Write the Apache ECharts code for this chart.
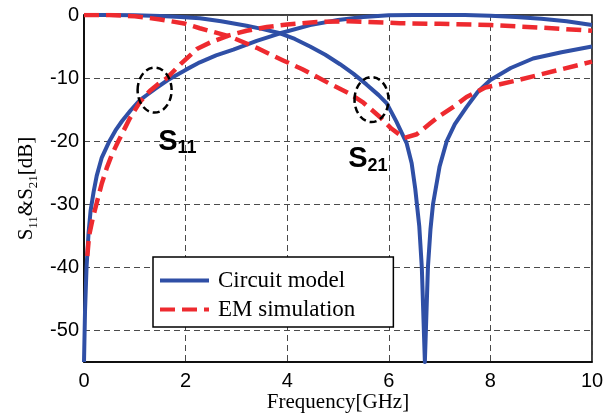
<!DOCTYPE html>
<html>
<head>
<meta charset="utf-8">
<script src="https://cdn.jsdelivr.net/npm/echarts@6/dist/echarts.min.js"></script>
<style>
html, body { margin: 0; padding: 0; background: #fff; }
#main { width: 610px; height: 415px; }
</style>
</head>
<body>
<div id="main"></div>
<script>
// circuit model, reflection-like curve (rises from the bottom)
var circuitAFreq = [0, 0.02, 0.05, 0.09, 0.13, 0.19, 0.25, 0.35, 0.5, 0.62, 0.75, 0.92, 1.1, 1.25, 1.4, 1.65, 2.0, 2.28, 2.6, 2.94, 3.4, 3.86, 4.45, 5.0, 5.5, 6.0, 6.5, 7.0, 7.5, 8.0, 8.5, 9.0, 9.5, 10];
var circuitAdB = [-55, -47, -40, -34.5, -31, -28, -25.5, -22.6, -20, -18.3, -16.8, -15.1, -13.5, -12.6, -11.7, -10.3, -8.7, -7.5, -6.4, -5.5, -4.1, -2.9, -1.6, -0.8, -0.3, -0.05, 0, 0, 0, -0.1, -0.3, -0.6, -1.0, -1.6];

// circuit model, curve with the notch at 6.7 GHz
var circuitBFreq = [0, 0.5, 1.0, 1.5, 1.9, 2.28, 2.7, 3.2, 3.5, 3.86, 4.15, 4.45, 4.75, 5.04, 5.3, 5.56, 5.8, 5.96, 6.15, 6.35, 6.45, 6.52, 6.6, 6.65, 6.69, 6.71, 6.73, 6.77, 6.82, 6.87, 7.0, 7.14, 7.3, 7.53, 7.75, 8.0, 8.4, 8.84, 9.4, 10];
var circuitBdB = [0, 0, -0.05, -0.15, -0.3, -0.5, -1.0, -1.7, -2.2, -2.9, -3.8, -5.0, -6.3, -7.8, -9.3, -11.0, -12.7, -14.0, -16.9, -20.3, -23.5, -27.5, -33.5, -40, -50, -55, -50, -40, -34, -30, -24, -20, -17.3, -14.6, -12.2, -10.3, -8.4, -6.9, -5.9, -5.0];

// EM simulation, reflection-like curve
var emAFreq = [0.065, 0.1, 0.17, 0.25, 0.35, 0.45, 0.55, 0.67, 0.9, 1.1, 1.3, 1.45, 1.63, 1.9, 2.22, 2.5, 2.87, 3.2, 3.6, 4.0, 4.58, 5.2, 6.22, 7.0, 8.0, 9.0, 10];
var emAdB = [-38.2, -35, -32.3, -29.8, -26.7, -24.2, -22.1, -20.1, -16.4, -13.8, -12.0, -11.0, -10.0, -7.8, -5.4, -4.3, -3.2, -2.5, -1.9, -1.5, -1.1, -1.0, -1.3, -1.4, -1.6, -2.0, -2.5];

// EM simulation, transmission-like curve
var emBFreq = [0, 0.5, 1.0, 1.5, 2.0, 2.28, 2.6, 2.87, 3.4, 3.92, 4.3, 4.84, 5.24, 5.5, 5.83, 6.05, 6.3, 6.55, 6.81, 7.0, 7.3, 7.53, 7.9, 8.5, 9.3, 10];
var emBdB = [0, 0, -0.2, -0.7, -1.4, -2.1, -2.8, -3.4, -5.2, -7.2, -8.6, -10.9, -12.5, -13.9, -16.2, -18.0, -19.5, -18.9, -17.2, -16.0, -14.4, -13.0, -11.5, -10.4, -8.8, -7.4];

// annotations: dashed rings and their S-parameter tags
var ringFreq = [1.39, 5.66];
var ringdB = [-11.9, -13.4];
var tagFreq = [1.46, 5.2];
var tagdB = [-17.8, -20.6];
var tagSub = ['11', '21'];

var legendNames = ['Circuit model', 'EM simulation'];

var blue = '#2f4fa6';
var red = '#ee2a2f';

function pairs(xs, ys) {
	var out = [];
	for (var i = 0; i < xs.length; i++) {
		out.push([xs[i], ys[i]]);
	}
	return out;
}

var chart = echarts.init(document.getElementById('main'), null, { renderer: 'canvas' });

var gridLine = { show: true, lineStyle: { color: '#4a4a4a', width: 1, type: [6, 4] } };

function curve(name, xs, ys, color, width, dash, z) {
	return {
		name: name,
		type: 'line',
		symbol: 'none',
		data: pairs(xs, ys),
		lineStyle: { color: color, width: width, type: dash, join: 'round', cap: 'butt' },
		itemStyle: { color: color },
		z: z
	};
}

var option = {
	animation: false,
	backgroundColor: '#fff',
	grid: {
		left: 84,
		right: 18,
		top: 15,
		bottom: 53,
		outerBoundsMode: 'none',
		containLabel: false,
		show: true,
		borderColor: '#000',
		borderWidth: 1.5,
		backgroundColor: 'transparent'
	},
	legend: {
		data: legendNames,
		orient: 'vertical',
		left: 153,
		top: 257,
		padding: [12, 38, 6, 5],
		itemGap: 6,
		itemWidth: 49,
		itemHeight: 14,
		backgroundColor: '#fff',
		borderColor: '#000',
		borderWidth: 1.5,
		itemStyle: { opacity: 0 },
		lineStyle: { width: 4 },
		textStyle: { fontFamily: 'Liberation Serif', fontSize: 23, color: '#000', padding: [0, 0, 0, 4] }
	},
	xAxis: {
		type: 'value',
		min: 0,
		max: 10,
		interval: 2,
		name: 'Frequency[GHz]',
		nameLocation: 'middle',
		nameGap: 30,
		nameMoveOverlap: false,
		nameTextStyle: { fontFamily: 'Liberation Serif', fontSize: 21, color: '#000' },
		axisLine: { show: true, onZero: false, lineStyle: { color: '#000', width: 1.5 } },
		axisTick: { show: false },
		axisLabel: { fontFamily: 'Liberation Sans', fontSize: 20, color: '#000', margin: 9 },
		splitLine: gridLine
	},
	yAxis: {
		type: 'value',
		min: -55,
		max: 0,
		splitNumber: 5,
		name: '{n|S}{b|11}{n|&S}{b|21}{n|[dB]}',
		nameLocation: 'middle',
		nameGap: 44,
		nameMoveOverlap: false,
		nameTextStyle: {
			fontFamily: 'Liberation Serif',
			color: '#000',
			rich: {
				n: { fontFamily: 'Liberation Serif', fontSize: 21, lineHeight: 24, verticalAlign: 'top', color: '#000' },
				b: { fontFamily: 'Liberation Serif', fontSize: 13, lineHeight: 13, padding: [14, 0, 0, 0], verticalAlign: 'bottom', color: '#000' }
			}
		},
		axisLine: { show: true, onZero: false, lineStyle: { color: '#000', width: 1.5 } },
		axisTick: { show: false },
		axisLabel: { fontFamily: 'Liberation Sans', fontSize: 20, color: '#000', margin: 5, showMinLabel: false },
		splitLine: gridLine
	},
	series: [
		curve('Circuit model', circuitAFreq, circuitAdB, blue, 4, 'solid', 2),
		curve('Circuit model', circuitBFreq, circuitBdB, blue, 4, 'solid', 2),
		curve('EM simulation', emAFreq, emAdB, red, 4.5, [15, 7], 3),
		curve('EM simulation', emBFreq, emBdB, red, 4.5, [15, 7], 3),
		{
			type: 'custom',
			data: pairs(ringFreq, ringdB),
			z: 4,
			renderItem: function (params, api) {
				var p = api.coord([api.value(0), api.value(1)]);
				return {
					type: 'ellipse',
					shape: { cx: p[0], cy: p[1], rx: 17, ry: 22.5 },
					style: { fill: 'none', stroke: '#000', lineWidth: 2.5, lineDash: [7, 4] }
				};
			}
		},
		{
			type: 'custom',
			data: pairs(tagFreq, tagdB),
			z: 4,
			renderItem: function (params, api) {
				var p = api.coord([api.value(0), api.value(1)]);
				return {
					type: 'text',
					x: p[0],
					y: p[1],
					style: {
						text: '{s|S}{n|' + tagSub[params.dataIndex] + '}',
						align: 'left',
						verticalAlign: 'top',
						rich: {
							s: { fontFamily: 'Liberation Sans', fontWeight: 'bold', fontSize: 29, lineHeight: 30, verticalAlign: 'top', fill: '#000' },
							n: { fontFamily: 'Liberation Sans', fontWeight: 'bold', fontSize: 18, lineHeight: 18, padding: [27, 0, 0, 0], verticalAlign: 'bottom', fill: '#000' }
						}
					}
				};
			}
		}
	]
};

chart.setOption(option);
</script>
</body>
</html>
